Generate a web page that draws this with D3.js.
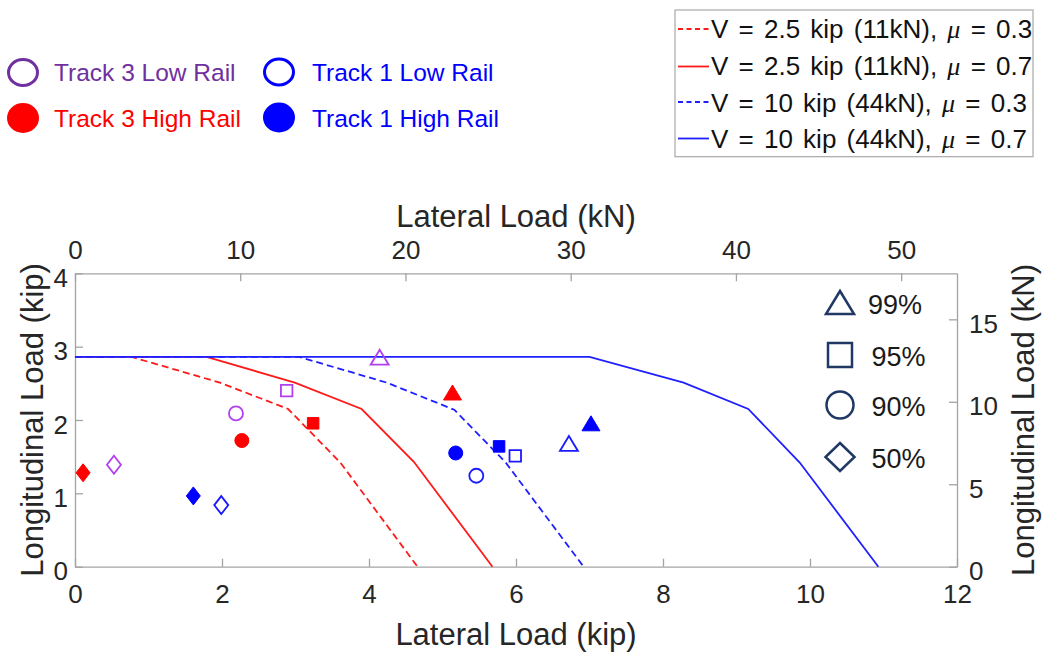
<!DOCTYPE html>
<html><head><meta charset="utf-8">
<script src="https://cdn.jsdelivr.net/npm/d3@7"></script>
<style>
body{margin:0;background:#fff;}
svg{display:block;}
text{font-family:"Liberation Sans",Arial,sans-serif;}
</style>
</head><body>
<svg id="chart" width="1042" height="654"></svg>
<script>
// ---------- data ----------
const KN_PER_KIP = 4.44822;
const xTicksKip = [0, 2, 4, 6, 8, 10, 12];
const yTicksKip = [0, 1, 2, 3, 4];
const xTicksKN = [0, 10, 20, 30, 40, 50];
const yTicksKN = [0, 5, 10, 15];

// capacity curves [lateral kip, longitudinal kip]
const curveV25mu03 = [[0, 2.86], [0.77, 2.86], [1.97, 2.51], [2.90, 2.15], [3.61, 1.42], [4.66, 0]];
const curveV25mu07 = [[0, 2.86], [1.79, 2.86], [2.99, 2.51], [3.90, 2.15], [4.61, 1.43], [5.68, 0]];
const curveV10mu03 = [[0, 2.86], [3.05, 2.86], [4.24, 2.51], [5.16, 2.14], [5.86, 1.42], [6.92, 0]];
const curveV10mu07 = [[0, 2.86], [7.00, 2.86], [8.28, 2.51], [9.16, 2.15], [9.86, 1.42], [10.93, 0]];

const curveLabels = ["V = 2.5 kip (11kN), ", "V = 2.5 kip (11kN), ", "V = 10 kip (44kN), ", "V = 10 kip (44kN), "];
const curveMu = ["0.3", "0.7", "0.3", "0.7"];

// percentile: 50% diamond, 90% circle, 95% square, 99% triangle
const percentiles = ["99%", "95%", "90%", "50%"];
const percentileShapes = ["triangle", "square", "circle", "diamond"];

const track3LowX = [0.53, 2.19, 2.88, 4.145];
const track3LowY = [1.39, 2.09, 2.40, 2.856];
const track3HighX = [0.11, 2.27, 3.24, 5.136];
const track3HighY = [1.28, 1.72, 1.955, 2.375];
const track1LowX = [1.99, 5.46, 5.99, 6.72];
const track1LowY = [0.84, 1.24, 1.51, 1.68];
const track1HighX = [1.61, 5.18, 5.77, 7.02];
const track1HighY = [0.965, 1.55, 1.64, 1.955];
const pointShapes = ["diamond", "circle", "square", "triangle"];

const trackNames = ["Track 3 Low Rail", "Track 1 Low Rail", "Track 3 High Rail", "Track 1 High Rail"];

// ---------- layout ----------
const svg = d3.select("#chart");
const L = 75, R = 957, T = 273.3, B = 566.7;
const x = d3.scaleLinear().domain([0, 12]).range([L, R]);
const y = d3.scaleLinear().domain([0, 4]).range([B, T]);
const xkN = d3.scaleLinear().domain([0, 12 * KN_PER_KIP]).range([L, R]);
const ykN = d3.scaleLinear().domain([0, 4 * KN_PER_KIP]).range([B, T]);

const axisColor = "#a3a3a3", tickText = "#262626", tickFont = 26;

function styleAxis(g) {
  g.selectAll("path.domain").attr("stroke", axisColor).attr("stroke-width", 1.3);
  g.selectAll(".tick line").attr("stroke", axisColor).attr("stroke-width", 1.3);
  g.selectAll(".tick text").attr("fill", tickText).attr("font-size", tickFont)
    .attr("font-family", '"Liberation Sans",Arial,sans-serif');
}

const gB = svg.append("g").attr("transform", `translate(0,${B})`)
  .call(d3.axisBottom(x).tickValues(xTicksKip).tickSizeInner(-8).tickSizeOuter(0).tickPadding(18).tickFormat(d3.format("d")));
styleAxis(gB);
const gT = svg.append("g").attr("transform", `translate(0,${T})`)
  .call(d3.axisTop(xkN).tickValues(xTicksKN).tickSizeInner(-8).tickSizeOuter(0).tickPadding(14).tickFormat(d3.format("d")));
styleAxis(gT);
const gL = svg.append("g").attr("transform", `translate(${L},0)`)
  .call(d3.axisLeft(y).tickValues(yTicksKip).tickSizeInner(-8).tickSizeOuter(0).tickPadding(7).tickFormat(d3.format("d")));
styleAxis(gL); gL.selectAll(".tick text").attr("dy", "0.5em");
const gR = svg.append("g").attr("transform", `translate(${R},0)`)
  .call(d3.axisRight(ykN).tickValues(yTicksKN).tickSizeInner(-8).tickSizeOuter(0).tickPadding(12).tickFormat(d3.format("d")));
styleAxis(gR); gR.selectAll(".tick text").attr("dy", "0.5em");

// axis titles
const titleFont = 31;
svg.append("text").attr("x", (L + R) / 2).attr("y", 645).attr("text-anchor", "middle")
  .attr("font-size", titleFont).attr("fill", tickText).text("Lateral Load (kip)");
svg.append("text").attr("x", (L + R) / 2).attr("y", 227).attr("text-anchor", "middle")
  .attr("font-size", titleFont).attr("fill", tickText).text("Lateral Load (kN)");
svg.append("text").attr("transform", `translate(43,${(T + B) / 2}) rotate(-90)`).attr("text-anchor", "middle")
  .attr("font-size", titleFont).attr("fill", tickText).text("Longitudinal Load (kip)");
svg.append("text").attr("transform", `translate(1034,${(T + B) / 2}) rotate(-90)`).attr("text-anchor", "middle")
  .attr("font-size", titleFont).attr("fill", tickText).text("Longitudinal Load (kN)");

// ---------- curves ----------
const line = d3.line().x(d => x(d[0])).y(d => y(d[1]));
const curves = [
  {data: curveV25mu03, color: "#ff1a1a", dash: "7,4"},
  {data: curveV25mu07, color: "#ff1a1a", dash: null},
  {data: curveV10mu03, color: "#2020ff", dash: "7,4"},
  {data: curveV10mu07, color: "#2020ff", dash: null}
];
curves.forEach(c => {
  svg.append("path").attr("d", line(c.data)).attr("fill", "none")
    .attr("stroke", c.color).attr("stroke-width", 1.8)
    .attr("stroke-dasharray", c.dash);
});

// ---------- markers ----------
function shapePath(shape, w, h) {
  const p = d3.path();
  if (shape === "circle") { p.arc(0, 0, w / 2, 0, 2 * Math.PI); p.closePath(); }
  else if (shape === "square") { p.rect(-w / 2, -h / 2, w, h); }
  else if (shape === "triangle") { p.moveTo(0, -h / 2); p.lineTo(w / 2, h / 2); p.lineTo(-w / 2, h / 2); p.closePath(); }
  else if (shape === "diamond") { p.moveTo(0, -h / 2); p.lineTo(w / 2, 0); p.lineTo(0, h / 2); p.lineTo(-w / 2, 0); p.closePath(); }
  return p.toString();
}
const markerSize = {circle: [14, 14], square: [11.5, 11.5], triangle: [18, 15], diamond: [14, 18]};

function drawSet(xs, ys, color, filled) {
  xs.forEach((xv, i) => {
    const s = pointShapes[i];
    const [w, h] = markerSize[s];
    svg.append("path").attr("d", shapePath(s, w, h))
      .attr("transform", `translate(${x(xv)},${y(ys[i])})`)
      .attr("fill", filled ? color : "none")
      .attr("stroke", color).attr("stroke-width", filled ? 1 : 1.8);
  });
}
drawSet(track3LowX, track3LowY, "#b040f0", false);
drawSet(track3HighX, track3HighY, "#ff0000", true);
drawSet(track1LowX, track1LowY, "#1a1aff", false);
drawSet(track1HighX, track1HighY, "#0000ff", true);

// ---------- percentile legend (inside plot) ----------
const pctMarkerY = [302.5, 355, 405, 457];
const pctTextX = [868, 871.5, 871.5, 871.5];
const pctTextY = [313.5, 365.5, 415.5, 467.5];
const pctSize = {triangle: [28, 23], square: [24, 24], circle: [27, 27], diamond: [29, 28]};
percentiles.forEach((t, i) => {
  const s = percentileShapes[i];
  const [w, h] = pctSize[s];
  svg.append("path").attr("d", shapePath(s, w, h))
    .attr("transform", `translate(840,${pctMarkerY[i]})`)
    .attr("fill", "none").attr("stroke", "#1f3864").attr("stroke-width", 2.5);
  svg.append("text").attr("x", pctTextX[i]).attr("y", pctTextY[i])
    .attr("font-size", 27).attr("fill", "#1a1a1a").text(t);
});

// ---------- track legend (top-left) ----------
const trackColors = ["#7030a0", "#0000ff", "#ff0000", "#0000ff"];
const trackFilled = [false, false, true, true];
const trackMX = [23, 279, 23, 279];
const trackMY = [72.5, 72, 118, 117.5];
const trackTX = [54, 312, 54, 312];
const trackTY = [81, 81, 127, 127];
trackNames.forEach((n, i) => {
  svg.append("ellipse").attr("cx", trackMX[i]).attr("cy", trackMY[i])
    .attr("rx", trackFilled[i] ? 16 : 14.5).attr("ry", trackFilled[i] ? 15 : 13)
    .attr("fill", trackFilled[i] ? trackColors[i] : "none")
    .attr("stroke", trackColors[i]).attr("stroke-width", trackFilled[i] ? 0 : 3);
  svg.append("text").attr("x", trackTX[i]).attr("y", trackTY[i])
    .attr("font-size", 24.5).attr("fill", trackColors[i]).text(n);
});

// ---------- curve legend (top-right) ----------
svg.append("rect").attr("x", 675).attr("y", 10).attr("width", 358).attr("height", 146.7)
  .attr("fill", "#fff").attr("stroke", "#a8a8a8").attr("stroke-width", 1.2);
const legLineY = [29, 66.5, 102, 138.5];
const legTextY = [38, 75, 111.5, 148];
curves.forEach((c, i) => {
  svg.append("line").attr("x1", 678).attr("x2", 709).attr("y1", legLineY[i]).attr("y2", legLineY[i])
    .attr("stroke", c.color).attr("stroke-width", 1.8).attr("stroke-dasharray", c.dash ? "5,3.5" : null);
  const t = svg.append("text").attr("x", 711).attr("y", legTextY[i]).attr("font-size", 26)
    .attr("word-spacing", 3).attr("fill", "#111");
  t.append("tspan").text(curveLabels[i]);
  t.append("tspan").attr("font-family", '"Liberation Serif","Times New Roman",serif').attr("font-style", "italic").text("μ");
  t.append("tspan").text(" = " + curveMu[i]);
});
</script>
</body></html>
